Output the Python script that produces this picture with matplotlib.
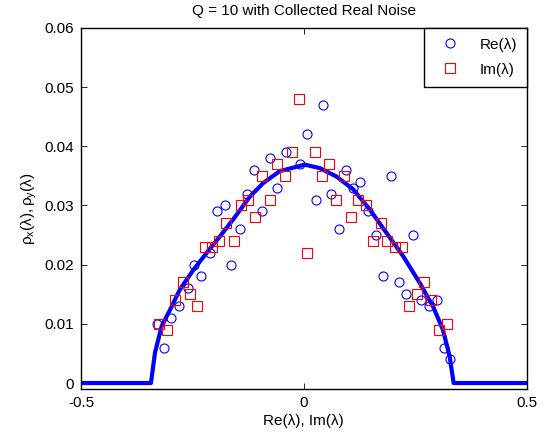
import numpy as np
import matplotlib
matplotlib.use('Agg')
import matplotlib.pyplot as plt

# data
# theoretical density (thick blue line)
curve_x = [-0.5, -0.343, -0.334, -0.319, -0.300, -0.278, -0.248, -0.218, -0.188, -0.159,
           -0.121, -0.091, -0.054, 0.002, 0.036, 0.073, 0.111, 0.148, 0.185, 0.223,
           0.260, 0.290, 0.312, 0.327, 0.336, 0.5]
curve_y = [0, 0, 0.0051, 0.0096, 0.0124, 0.0158, 0.0191, 0.0220, 0.0248, 0.0276,
           0.0315, 0.0338, 0.0358, 0.0369, 0.0363, 0.0349, 0.0327, 0.0293, 0.0254, 0.0214,
           0.0169, 0.0129, 0.0090, 0.0045, 0, 0]

# histogram of real parts (blue circles)
re_x = [-0.329, -0.313, -0.297, -0.280, -0.261, -0.246, -0.230, -0.211, -0.194, -0.178,
        -0.163, -0.143, -0.127, -0.111, -0.093, -0.076, -0.060, -0.041, -0.009, 0.008,
        0.027, 0.043, 0.060, 0.078, 0.094, 0.111, 0.126, 0.144, 0.161, 0.177,
        0.196, 0.213, 0.229, 0.245, 0.263, 0.280, 0.298, 0.314, 0.327]
re_y = [0.010, 0.006, 0.011, 0.013, 0.016, 0.020, 0.018, 0.022, 0.029, 0.030,
        0.020, 0.026, 0.032, 0.036, 0.029, 0.038, 0.033, 0.039, 0.037, 0.042,
        0.031, 0.047, 0.032, 0.026, 0.036, 0.033, 0.034, 0.029, 0.025, 0.018,
        0.035, 0.017, 0.015, 0.025, 0.014, 0.013, 0.014, 0.006, 0.004]

# histogram of imaginary parts (red squares)
im_x = [-0.325, -0.306, -0.288, -0.271, -0.255, -0.239, -0.222, -0.205, -0.190, -0.174,
        -0.157, -0.140, -0.125, -0.109, -0.093, -0.076, -0.060, -0.043, -0.026, -0.011,
        0.007, 0.025, 0.041, 0.057, 0.073, 0.090, 0.106, 0.122, 0.139, 0.155,
        0.172, 0.187, 0.204, 0.220, 0.236, 0.253, 0.269, 0.286, 0.303, 0.320]
im_y = [0.010, 0.009, 0.014, 0.017, 0.015, 0.013, 0.023, 0.023, 0.024, 0.027,
        0.024, 0.030, 0.031, 0.028, 0.035, 0.031, 0.037, 0.035, 0.039, 0.048,
        0.022, 0.039, 0.035, 0.037, 0.031, 0.035, 0.028, 0.031, 0.030, 0.024,
        0.027, 0.024, 0.023, 0.023, 0.013, 0.015, 0.017, 0.014, 0.009, 0.010]

x_ticks = [-0.5, 0, 0.5]
x_tick_labels = ['-0.5', '0', '0.5']
y_ticks = [0, 0.01, 0.02, 0.03, 0.04, 0.05, 0.06]
y_tick_labels = ['0', '0.01', '0.02', '0.03', '0.04', '0.05', '0.06']

plt.rcParams['font.family'] = ['Liberation Sans', 'DejaVu Sans']
plt.rcParams['mathtext.fontset'] = 'custom'
plt.rcParams['mathtext.rm'] = 'Liberation Sans'
plt.rcParams['mathtext.it'] = 'Liberation Sans'

fig = plt.figure(figsize=(5.47, 4.43), dpi=100)
ax = fig.add_axes([0.148, 0.122, 0.815, 0.815])

ax.plot(re_x, re_y, 'o', color='blue', mfc='none', ms=6.5, mew=0.8, label='Re(λ)', zorder=3)
ax.plot(im_x, im_y, 's', color='red', mfc='none', ms=6.5, mew=0.8, label='Im(λ)', zorder=3)
ax.plot(curve_x, curve_y, '-', color='blue', lw=3, zorder=2)

ax.set_xlim(-0.5, 0.5)
ax.set_ylim(-0.001, 0.06)
ax.set_xticks(x_ticks)
ax.set_xticklabels(x_tick_labels)
ax.set_yticks(y_ticks)
ax.set_yticklabels(y_tick_labels)
ax.tick_params(direction='in', length=4, width=0.6, top=True, right=True, labelsize=11, pad=5)
for s in ax.spines.values():
    s.set_linewidth(1.0)

ax.set_title('Q = 10 with Collected Real Noise', fontsize=11, pad=9)
ax.set_xlabel('Re(λ), Im(λ)', fontsize=11, labelpad=3)
ax.set_ylabel(r'$\mathregular{ρ_x(λ), ρ_y(λ)}$', fontsize=11, labelpad=4)

leg = ax.legend(loc='upper right', bbox_to_anchor=(1, 1), borderaxespad=0, fontsize=11,
                fancybox=False, edgecolor='black', framealpha=1, handlelength=2.2,
                handletextpad=0.8, borderpad=0.65, labelspacing=0.72)
leg.get_frame().set_linewidth(1.0)

plt.savefig('out.png', dpi=100)
